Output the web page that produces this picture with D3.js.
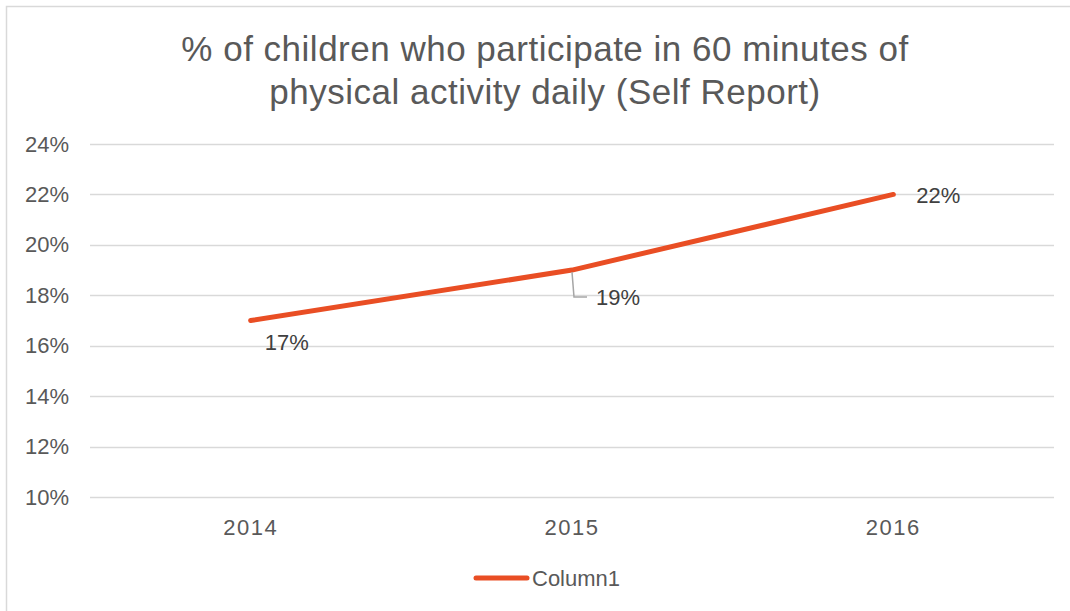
<!DOCTYPE html>
<html>
<head>
<meta charset="utf-8">
<script src="https://cdn.jsdelivr.net/npm/d3@7"></script>
<style>
  body { margin: 0; background: #fff; }
  text { font-family: "Liberation Sans", Arial, sans-serif; }
</style>
</head>
<body>
<div id="chart"></div>
<script>
// chart data
var years = ["2014", "2015", "2016"];
var values = [0.17, 0.19, 0.22];
var yTicks = [0.10, 0.12, 0.14, 0.16, 0.18, 0.20, 0.22, 0.24];
var seriesName = "Column1";
var titleLines = ["% of children who participate in 60 minutes of", "physical activity daily (Self Report)"];

var svg = d3.select("#chart")
    .append("svg")
    .attr("width", 1070)
    .attr("height", 611);

// outer chart border
svg.append("rect")
    .attr("x", 6.5)
    .attr("y", 6.5)
    .attr("width", 1080)
    .attr("height", 620)
    .attr("fill", "#fff")
    .attr("stroke", "#d9d9d9")
    .attr("stroke-width", 1.5);

var x = d3.scaleBand()
    .domain(years)
    .range([90, 1054]);

var y = d3.scaleLinear()
    .domain([0.10, 0.24])
    .range([497, 144]);

svg.append("g")
    .attr("class", "title")
    .selectAll("text")
    .data(titleLines)
    .enter()
    .append("text")
    .attr("x", 545)
    .attr("y", function (d, i) { return 61 + i * 43; })
    .attr("text-anchor", "middle")
    .attr("font-size", "35px")
    .attr("letter-spacing", "0.5px")
    .attr("fill", "#595959")
    .text(function (d) { return d; });

// gridlines
svg.append("g")
    .selectAll("line")
    .data(yTicks)
    .enter()
    .append("line")
    .attr("x1", 90)
    .attr("x2", 1054)
    .attr("y1", function (d) { return Math.round(y(d)) + 0.5; })
    .attr("y2", function (d) { return Math.round(y(d)) + 0.5; })
    .attr("stroke", "#d9d9d9")
    .attr("stroke-width", 1.5);

// y axis
var yAxis = svg.append("g")
    .attr("transform", "translate(90,0)")
    .call(d3.axisLeft(y).tickValues(yTicks).tickFormat(d3.format(".0%")).tickSize(0).tickPadding(21));
yAxis.select(".domain").remove();
yAxis.selectAll("text")
    .attr("font-size", "22px")
    .attr("fill", "#595959")
    .attr("font-family", "Liberation Sans, Arial, sans-serif");

// x axis
var xAxis = svg.append("g")
    .attr("transform", "translate(0,497)")
    .call(d3.axisBottom(x).tickSize(0).tickPadding(22));
xAxis.select(".domain").remove();
xAxis.selectAll("text")
    .attr("font-size", "22px")
    .attr("letter-spacing", "1.5px")
    .attr("fill", "#595959")
    .attr("font-family", "Liberation Sans, Arial, sans-serif");

var line = d3.line()
    .x(function (d, i) { return x(years[i]) + x.bandwidth() / 2; })
    .y(function (d) { return y(d); });

svg.append("path")
    .datum(values)
    .attr("d", line)
    .attr("fill", "none")
    .attr("stroke", "#e94e24")
    .attr("stroke-width", 5)
    .attr("stroke-linecap", "round")
    .attr("stroke-linejoin", "round");

// data labels (offsets as placed in the original)
var labelOffsets = [[14, 29], [24, 35], [23, 9]];

// leader line for the 2015 label
var cx1 = x(years[1]) + x.bandwidth() / 2;
var cy1 = y(values[1]);
svg.append("polyline")
    .attr("points", [[cx1, cy1 + 2], [cx1 + 2, cy1 + 27], [cx1 + 15, cy1 + 27]].join(" "))
    .attr("fill", "none")
    .attr("stroke", "#a6a6a6")
    .attr("stroke-width", 1.5);

svg.append("g")
    .selectAll("text")
    .data(values)
    .enter()
    .append("text")
    .attr("x", function (d, i) { return x(years[i]) + x.bandwidth() / 2 + labelOffsets[i][0]; })
    .attr("y", function (d, i) { return y(d) + labelOffsets[i][1]; })
    .attr("font-size", "22px")
    .attr("fill", "#404040")
    .attr("font-family", "Liberation Sans, Arial, sans-serif")
    .text(function (d) { return d3.format(".0%")(d); });

// legend
var legend = svg.append("g")
    .attr("id", "legend");
legend.append("line")
    .attr("x1", 476)
    .attr("x2", 527)
    .attr("y1", 578)
    .attr("y2", 578)
    .attr("stroke", "#e94e24")
    .attr("stroke-width", 5)
    .attr("stroke-linecap", "round");
legend.append("text")
    .attr("x", 532)
    .attr("y", 586)
    .attr("font-size", "22px")
    .attr("fill", "#595959")
    .text(seriesName);
</script>
</body>
</html>
